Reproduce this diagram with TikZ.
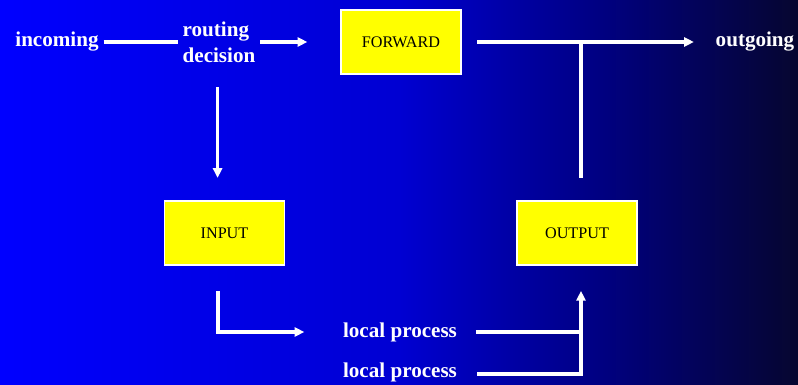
\documentclass[tikz,border=0pt]{standalone}
\usepackage{fontspec}
\setmainfont{Liberation Serif}
\usetikzlibrary{positioning,arrows.meta}
\definecolor{skyblue}{RGB}{0,0,255}
\definecolor{midblue}{RGB}{0,0,210}
\definecolor{darkblue}{RGB}{0,0,130}
\definecolor{deepnavy}{RGB}{6,6,48}
\definecolor{boxyellow}{RGB}{255,255,0}
\pgfdeclarehorizontalshading{backfade}{100bp}{color(0bp)=(skyblue); color(25bp)=(skyblue);
  color(50bp)=(midblue); color(62.5bp)=(darkblue); color(75bp)=(deepnavy); color(100bp)=(deepnavy)}

\begin{document}
\begin{tikzpicture}[x=0.025cm,y=-0.025cm,
    lbl/.style={text=white,font=\fontsize{15}{18.5}\selectfont\bfseries,align=left},
    chain/.style={draw=white,fill=boxyellow,line width=0.8pt,minimum width=3cm,minimum height=1.6cm,font=\fontsize{11.5}{13}\selectfont},
    wire/.style={draw=white,line width=2.4pt},
    arr/.style={wire,-{Triangle[length=7pt,width=6.5pt]}}]
    % Background
    \useasboundingbox (0,0) rectangle (798,385);
    \shade[shading=backfade] (0,0) rectangle (798,385);

    % Labels
    \node[lbl] (incoming) at (57,42) {incoming};
    \node[lbl] (routing) at (219,42) {routing\\decision};
    \node[lbl] (outgoing) at (755,42) {outgoing};
    \node[lbl] (local1) at (400,332) {local process};
    \node[lbl] (local2) at (400,372) {local process};

    % Chains
    \node[chain] (forward) at (401,42) {FORWARD};
    \node[chain] (input) at (224.5,233) {INPUT};
    \node[chain] (output) at (577,233) {OUTPUT};
    \coordinate (join) at (581,42);

    % Arrows
    \draw[wire] (incoming) -- (routing);
    \draw[arr,shorten >=23.5pt] (routing.east) -- (routing.east -| forward.west);
    \draw[arr,shorten <=11pt,shorten >=12pt] (forward.east) -- (forward.east -| outgoing.west);
    \draw[wire,shorten <=16pt] (join |- output.north) -- (join);
    \draw[arr,shorten <=14pt,shorten >=16pt] ([xshift=-1pt]routing.south) -- ([xshift=-1pt]routing.south |- input.north);
    \draw[arr,shorten <=18pt,shorten >=24pt] ([xshift=-4.5pt]input.south) |- (local1.west);
    \draw[wire,shorten <=10pt] (local1.east) -- (join |- local1.east);
    \draw[arr,shorten <=11pt,shorten >=18pt] ([yshift=-1.5pt]local2.east) -| (join |- output.south);
\end{tikzpicture}
\end{document}
